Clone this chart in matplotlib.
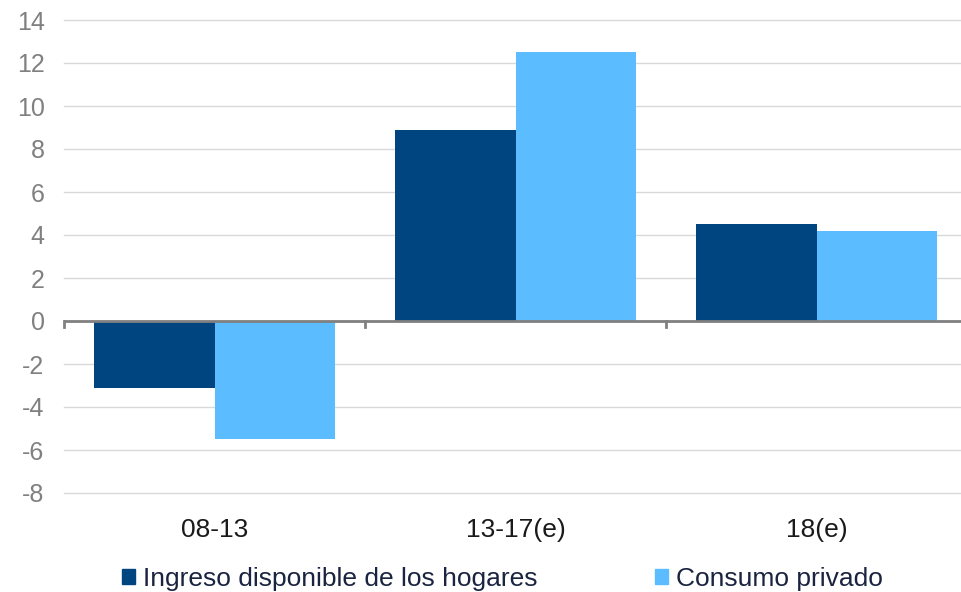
import numpy as np
import matplotlib.pyplot as plt
from matplotlib.patches import Patch

plt.rcParams['font.family'] = ['Liberation Sans', 'DejaVu Sans']
plt.rcParams['axes.unicode_minus'] = False

# Data
categories = ['08-13', '13-17(e)', '18(e)']
ingreso = [-3.1, 8.9, 4.5]
consumo = [-5.5, 12.5, 4.2]
series_names = ['Ingreso disponible de los hogares', 'Consumo privado']
colors = ['#00457F', '#5BBDFF']

fig = plt.figure(figsize=(9.61, 5.92), dpi=100)
ax = fig.add_axes([64 / 961, 1 - 493 / 592, (967 - 64) / 961, (493 - 20) / 592])

x = np.arange(len(categories))
w = 0.4
ax.bar(x - w / 2, ingreso, w, color=colors[0], zorder=3)
ax.bar(x + w / 2, consumo, w, color=colors[1], zorder=3)

ax.set_xlim(-0.5, len(categories) - 0.5)
ax.set_ylim(-8, 14)
ax.set_yticks(np.arange(-8, 15, 2))
ax.yaxis.grid(True, color='#D9D9D9', linewidth=1)
for gl in ax.get_ygridlines():
    gl.set_clip_on(False)
ax.set_axisbelow(True)
for s in ax.spines.values():
    s.set_visible(False)

ax.tick_params(axis='y', length=0, labelsize=18, labelcolor='#808080', pad=14)
ax.set_xticks(x)
ax.set_xticklabels(categories, fontsize=19, color='#1a1a1a')
ax.tick_params(axis='x', length=0, pad=18)

# zero line with category separators
ax.axhline(0, color='#808080', linewidth=2, zorder=4)
for b in np.arange(-0.5, len(categories), 1.0):
    ax.plot([b, b], [0, -0.3], color='#808080', linewidth=2, zorder=4, clip_on=False)

handles = [Patch(color=c) for c in colors]
leg = fig.legend(handles, series_names, loc='center', bbox_to_anchor=(0.523, 0.022),
                 ncol=2, frameon=False, fontsize=19, handlelength=0.5, handleheight=0.5,
                 handletextpad=0.3, columnspacing=4.45, labelcolor='#1A2440')

fig.savefig('out.png', dpi=100)
